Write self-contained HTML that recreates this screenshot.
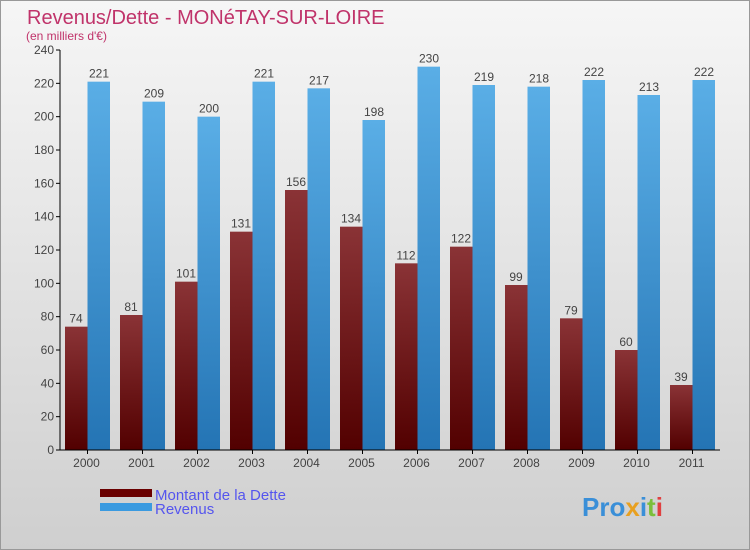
<!DOCTYPE html>
<html><head><meta charset="utf-8"><style>
body{margin:0}
#c{width:750px;height:550px;position:relative;overflow:hidden;font-family:"Liberation Sans",sans-serif}
</style></head><body>
<div id="c">
<svg width="750" height="550" xmlns="http://www.w3.org/2000/svg" id="svg">
<defs>
<linearGradient id="bg" x1="0" y1="0" x2="0" y2="1"><stop offset="0" stop-color="#f6f6f6"/><stop offset="1" stop-color="#cfcfcf"/></linearGradient>
<linearGradient id="gd" x1="0" y1="0" x2="0" y2="1"><stop offset="0" stop-color="#8a3336"/><stop offset="1" stop-color="#520000"/></linearGradient>
<linearGradient id="gr" x1="0" y1="0" x2="0" y2="1"><stop offset="0" stop-color="#5aaee6"/><stop offset="1" stop-color="#2474b4"/></linearGradient>
</defs>
<rect x="0.5" y="0.5" width="749" height="549" fill="url(#bg)" stroke="#999"/>
<text x="27" y="24" font-size="20" fill="#c0336a">Revenus/Dette - MONéTAY-SUR-LOIRE</text>
<text x="26" y="40" font-size="12" fill="#c0336a">(en milliers d'€)</text>
<g id="plot"></g>
<rect x="100" y="489" width="52" height="8" fill="#6a0000"/>
<rect x="100" y="503" width="52" height="8" fill="#3a9ae0"/>
<text x="155" y="500" font-size="15" fill="#5555ee">Montant de la Dette</text>
<text x="155" y="514" font-size="15" fill="#5555ee">Revenus</text>
<text x="582" y="516" font-size="26" font-weight="bold"><tspan fill="#3a8fd8">Pro</tspan><tspan fill="#e8a020">x</tspan><tspan fill="#3a8fd8">i</tspan><tspan fill="#7bbf3a">t</tspan><tspan fill="#e04040">i</tspan></text>
</svg>
</div>
<script>
const years=["2000","2001","2002","2003","2004","2005","2006","2007","2008","2009","2010","2011"];
const dette=[74,81,101,131,156,134,112,122,99,79,60,39];
const revenus=[221,209,200,221,217,198,230,219,218,222,213,222];
const ticks=[0,20,40,60,80,100,120,140,160,180,200,220,240];
const NS="http://www.w3.org/2000/svg";
const g=document.getElementById('plot');
const x0=60,x1=720,yb=450,yt=50,ymax=240;
const gw=(x1-x0)/years.length;
const y=v=>yb-(v/ymax)*(yb-yt);
function mk(t,a,txt){const e=document.createElementNS(NS,t);for(const k in a)e.setAttribute(k,a[k]);if(txt!==undefined)e.textContent=txt;g.appendChild(e);return e;}
ticks.forEach(t=>{
 const l=mk('line',{x1:x0-4,x2:x0,y1:y(t),y2:y(t),stroke:'#000'});
 
 
 const tx=mk('text',{x:x0-6,y:y(t)+4,'font-size':12,fill:'#444','text-anchor':'end'},t);
 
 
});
years.forEach((yr,i)=>{
 const gx=x0+i*gw;
 const b1=mk('rect',{x:gx+5,y:y(dette[i]),width:22.5,height:yb-y(dette[i]),fill:'url(#gd)'});
 
 
 const b2=mk('rect',{x:gx+27.5,y:y(revenus[i]),width:22.5,height:yb-y(revenus[i]),fill:'url(#gr)'});
 
 
 const t1=mk('text',{x:gx+16,y:y(dette[i])-4,'font-size':12,fill:'#444','text-anchor':'middle'},dette[i]);
 
 
 const t2=mk('text',{x:gx+39,y:y(revenus[i])-4,'font-size':12,fill:'#444','text-anchor':'middle'},revenus[i]);
 
 
 const tk=mk('line',{x1:gx+gw/2,x2:gx+gw/2,y1:yb,y2:yb+4,stroke:'#000'});
 
 
 const xl=mk('text',{x:gx+gw/2-1,y:yb+17,'font-size':12,fill:'#444','text-anchor':'middle'},yr);
 
 
});
const ya=mk('line',{x1:x0,x2:x0,y1:yt,y2:yb,stroke:'#000'});


const xa=mk('line',{x1:x0,x2:x1,y1:yb,y2:yb,stroke:'#000'});


</script>
</body></html>
